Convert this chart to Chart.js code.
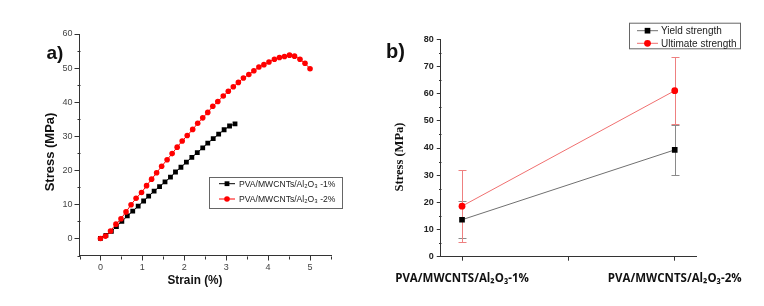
<!DOCTYPE html>
<html>
<head>
<meta charset="utf-8">
<title>Tensile properties</title>
<script src="https://cdn.jsdelivr.net/npm/chart.js@4.4.1/dist/chart.umd.min.js"></script>
<style>
  html, body { margin: 0; padding: 0; background: #fff; }
  .wrapper { position: relative; width: 764px; height: 306px; overflow: hidden; background: #fff; }
  #stressStrainChart { position: absolute; left: 0; top: 0; }
  #strengthChart { position: absolute; left: 380px; top: 0; }
</style>
</head>
<body>
<div class="wrapper">
  <canvas id="stressStrainChart" width="380" height="306"></canvas>
  <canvas id="strengthChart" width="384" height="306"></canvas>
</div>
<script>
// Panel a - stress / strain curves
const seriesNamesA = ["PVA/MWCNTs/Al₂O₃ -1%", "PVA/MWCNTs/Al₂O₃ -2%"];
const strain1 = [0, 0.13, 0.26, 0.38, 0.51, 0.64, 0.77, 0.9, 1.03, 1.15, 1.28, 1.41, 1.54, 1.67, 1.79, 1.92, 2.05, 2.18, 2.31, 2.44, 2.56, 2.69, 2.82, 2.95, 3.08, 3.21];
const stress1 = [0, 0.9, 2.1, 3.5, 5.0, 6.6, 8.0, 9.5, 11.0, 12.4, 13.9, 15.2, 16.6, 18.0, 19.5, 20.9, 22.4, 23.8, 25.2, 26.6, 28.0, 29.3, 30.6, 31.9, 33.0, 33.6];
const strain2 = [0, 0.12, 0.24, 0.37, 0.49, 0.61, 0.73, 0.85, 0.98, 1.10, 1.22, 1.34, 1.46, 1.59, 1.71, 1.83, 1.95, 2.07, 2.20, 2.32, 2.44, 2.56, 2.68, 2.80, 2.93, 3.05, 3.17, 3.29, 3.41, 3.54, 3.66, 3.78, 3.90, 4.02, 4.15, 4.27, 4.39, 4.51, 4.63, 4.76, 4.88, 5.00];
const stress2 = [0, 0.7, 2.2, 4.2, 5.8, 7.8, 9.9, 11.8, 13.5, 15.5, 17.4, 19.3, 21.2, 23.1, 24.9, 26.8, 28.6, 30.2, 32.0, 33.8, 35.4, 37.0, 38.8, 40.2, 41.8, 43.2, 44.5, 45.8, 47.1, 48.1, 49.2, 50.3, 51.0, 51.8, 52.6, 53.1, 53.4, 53.8, 53.5, 52.6, 51.4, 49.8];
const strainTicks = [0, 1, 2, 3, 4, 5];
const stressTicksA = [0, 10, 20, 30, 40, 50, 60];

// Panel b - yield / ultimate strength
const composites = ["PVA/MWCNTS/Al₂O₃-1%", "PVA/MWCNTS/Al₂O₃-2%"];
const seriesNamesB = ["Yield strength", "Ultimate strength"];
const yieldStrength = [13.6, 39.3];
const yieldError = [6.9, 9.3];
const ultimateStrength = [18.6, 61.1];
const ultimateError = [13.2, 12.4];
const compositeTicks = [1, 1.5, 2];
const stressTicksB = [0, 10, 20, 30, 40, 50, 60, 70, 80];

function toPoints(xs, ys) {
  return xs.map(function (x, i) {
    return { x: x, y: ys[i] };
  });
}

// short minor ticks between the labelled ones
const minorTicks = {
  id: "minorTicks",
  afterDraw: function (chart, args, opts) {
    const ctx = chart.ctx;
    ctx.save();
    ctx.strokeStyle = "#333";
    ctx.lineWidth = 1;
    ["x", "y"].forEach(function (id) {
      const step = opts[id];
      if (!step) return;
      const scale = chart.scales[id];
      const n = Math.round((scale.max - scale.min) / step);
      for (let i = 0; i <= n; i++) {
        const v = scale.min + i * step;
        if (scale.ticks.some(function (t) { return Math.abs(t.value - v) < 1e-6; })) continue;
        const p = Math.round(scale.getPixelForValue(v)) + 0.5;
        ctx.beginPath();
        if (id === "x") {
          const y0 = Math.round(chart.chartArea.bottom) + 0.5;
          ctx.moveTo(p, y0);
          ctx.lineTo(p, y0 + opts.length);
        } else {
          const x0 = Math.round(chart.chartArea.left) + 0.5;
          ctx.moveTo(x0, p);
          ctx.lineTo(x0 - opts.length, p);
        }
        ctx.stroke();
      }
    });
    ctx.restore();
  },
};

// free text: panel letters and axis titles
const panelText = {
  id: "panelText",
  afterDraw: function (chart, args, opts) {
    const ctx = chart.ctx;
    (opts.items || []).forEach(function (it) {
      ctx.save();
      ctx.translate(it.x, it.y);
      if (it.rotate) ctx.rotate(it.rotate);
      ctx.font = it.font;
      ctx.fillStyle = it.color || "#111";
      ctx.textAlign = "center";
      ctx.textBaseline = "middle";
      if (it.maxWidth) {
        ctx.fillText(it.text, 0, 0, it.maxWidth);
      } else {
        ctx.fillText(it.text, 0, 0);
      }
      ctx.restore();
    });
  },
};

// boxed legend placed like the original
const boxLegend = {
  id: "boxLegend",
  afterDraw: function (chart, args, opts) {
    if (!opts.width) return;
    const ctx = chart.ctx;
    ctx.save();
    ctx.fillStyle = "#fff";
    ctx.fillRect(opts.left, opts.top, opts.width, opts.height);
    ctx.strokeStyle = "#666";
    ctx.lineWidth = 1;
    ctx.strokeRect(opts.left + 0.5, opts.top + 0.5, opts.width, opts.height);
    ctx.font = opts.font;
    ctx.textBaseline = "middle";
    chart.data.datasets.forEach(function (ds, i) {
      const y = opts.top + opts.firstRow + i * opts.rowGap;
      const x0 = opts.left + opts.sampleLeft;
      const x1 = x0 + opts.sampleWidth;
      const xm = (x0 + x1) / 2;
      ctx.strokeStyle = ds.borderColor;
      ctx.beginPath();
      ctx.moveTo(x0, y);
      ctx.lineTo(x1, y);
      ctx.stroke();
      ctx.fillStyle = ds.pointBackgroundColor;
      if (ds.pointStyle === "rect") {
        const s = ds.pointRadius * Math.SQRT1_2;
        ctx.fillRect(xm - s, y - s, 2 * s, 2 * s);
      } else {
        ctx.beginPath();
        ctx.arc(xm, y, ds.pointRadius, 0, Math.PI * 2);
        ctx.fill();
      }
      ctx.fillStyle = "#222";
      ctx.fillText(ds.label, x1 + opts.textGap, y + 0.5);
    });
    ctx.restore();
  },
};

// vertical error bars with caps
const errorBars = {
  id: "errorBars",
  beforeDatasetsDraw: function (chart) {
    const ctx = chart.ctx;
    const xs = chart.scales.x;
    const ys = chart.scales.y;
    ctx.save();
    ctx.lineWidth = 1;
    chart.data.datasets.forEach(function (ds) {
      if (!ds.errorBars) return;
      ctx.strokeStyle = ds.errorColor;
      ds.data.forEach(function (pt, i) {
        const err = ds.errorBars[i];
        const x = Math.round(xs.getPixelForValue(pt.x)) + 0.5;
        const top = Math.round(ys.getPixelForValue(pt.y + err)) + 0.5;
        const bottom = Math.round(ys.getPixelForValue(pt.y - err)) + 0.5;
        ctx.beginPath();
        ctx.moveTo(x, top);
        ctx.lineTo(x, bottom);
        ctx.moveTo(x - 4, top);
        ctx.lineTo(x + 4, top);
        ctx.moveTo(x - 4, bottom);
        ctx.lineTo(x + 4, bottom);
        ctx.stroke();
      });
    });
    ctx.restore();
  },
};

// Stress Strain Chart
let stressStrainCanvas = document.getElementById("stressStrainChart");
if (stressStrainCanvas) {
  var ctxA = stressStrainCanvas.getContext("2d");
  var dataA = {
    datasets: [
      {
        label: seriesNamesA[0],
        data: toPoints(strain1, stress1),
        showLine: true,
        borderColor: "#000000",
        borderWidth: 1,
        pointStyle: "rect",
        pointRadius: 3.4,
        pointBackgroundColor: "#000000",
        pointBorderWidth: 0,
        order: 1,
      },
      {
        label: seriesNamesA[1],
        data: toPoints(strain2, stress2),
        showLine: true,
        borderColor: "#ff0000",
        borderWidth: 1,
        pointStyle: "circle",
        pointRadius: 2.8,
        pointBackgroundColor: "#ff0000",
        pointBorderWidth: 0,
        order: 0,
      },
    ],
  };
  var optionsA = {
    responsive: false,
    animation: false,
    layout: {
      padding: { left: 49.5, top: 34, right: 49, bottom: 25.5 },
    },
    plugins: {
      legend: { display: false },
      tooltip: { enabled: false },
      minorTicks: { x: 0.5, y: 5, length: 3 },
      boxLegend: {
        left: 209, top: 177, width: 133, height: 31,
        firstRow: 6.7, rowGap: 15.3,
        sampleLeft: 10, sampleWidth: 16, textGap: 4,
        font: "8.6px 'Liberation Sans', Arial, sans-serif",
      },
      panelText: {
        items: [
          { text: "a)", x: 55, y: 54, font: "bold 19px 'Liberation Sans', Arial, sans-serif" },
          { text: "Stress (MPa)", x: 50, y: 152, rotate: -Math.PI / 2, font: "bold 13px 'Liberation Sans', Arial, sans-serif", maxWidth: 80 },
          { text: "Strain (%)", x: 195, y: 280, font: "bold 13px 'Liberation Sans', Arial, sans-serif", maxWidth: 55 },
        ],
      },
    },
    scales: {
      x: {
        type: "linear",
        min: -0.5,
        max: 5.5,
        afterFit: function (scale) {
          scale.height = 25;
        },
        afterBuildTicks: function (scale) {
          scale.ticks = strainTicks.map(function (v) { return { value: v }; });
        },
        ticks: {
          color: "#444",
          font: { family: "'Liberation Sans', Arial", size: 9 },
          padding: 2,
          maxRotation: 0,
        },
        grid: { display: true, drawOnChartArea: false, drawTicks: true, tickLength: 5, tickColor: "#333" },
        border: { display: true, color: "#333", width: 1 },
      },
      y: {
        type: "linear",
        min: -5,
        max: 60,
        afterFit: function (scale) {
          scale.width = 30;
        },
        afterBuildTicks: function (scale) {
          scale.ticks = stressTicksA.map(function (v) { return { value: v }; });
        },
        ticks: {
          color: "#444",
          font: { family: "'Liberation Sans', Arial", size: 9 },
          padding: 2,
        },
        grid: { display: true, drawOnChartArea: false, drawTicks: true, tickLength: 5, tickColor: "#333" },
        border: { display: true, color: "#333", width: 1 },
      },
    },
  };
  var stressStrainChart = new Chart(ctxA, {
    type: "scatter",
    data: dataA,
    options: optionsA,
    plugins: [minorTicks, boxLegend, panelText],
  });
}

// Strength Chart
let strengthCanvas = document.getElementById("strengthChart");
if (strengthCanvas) {
  var ctxB = strengthCanvas.getContext("2d");
  var dataB = {
    datasets: [
      {
        label: seriesNamesB[0],
        data: toPoints([1, 2], yieldStrength),
        errorBars: yieldError,
        errorColor: "#8a8a8a",
        showLine: true,
        borderColor: "#707070",
        borderWidth: 1,
        pointStyle: "rect",
        pointRadius: 4,
        pointBackgroundColor: "#000000",
        pointBorderWidth: 0,
      },
      {
        label: seriesNamesB[1],
        data: toPoints([1, 2], ultimateStrength),
        errorBars: ultimateError,
        errorColor: "#ee8080",
        showLine: true,
        borderColor: "#f07070",
        borderWidth: 1,
        pointStyle: "circle",
        pointRadius: 3.4,
        pointBackgroundColor: "#ff0000",
        pointBorderWidth: 0,
      },
    ],
  };
  var optionsB = {
    responsive: false,
    animation: false,
    layout: {
      padding: { left: 20, top: 39.3, right: 68, bottom: 9.3 },
    },
    plugins: {
      legend: { display: false },
      tooltip: { enabled: false },
      minorTicks: { y: 5, length: 2.5 },
      boxLegend: {
        left: 249, top: 22.7, width: 111, height: 25.6,
        firstRow: 8, rowGap: 12.6,
        sampleLeft: 8, sampleWidth: 21, textGap: 3,
        font: "10px 'Liberation Sans', Arial, sans-serif",
      },
      panelText: {
        items: [
          { text: "b)", x: 15.5, y: 52, font: "bold 20px 'Liberation Sans', Arial, sans-serif" },
          { text: "Stress (MPa)", x: 20, y: 157, rotate: -Math.PI / 2, font: "bold 12.5px 'Liberation Serif', 'Times New Roman', serif" },
        ],
      },
    },
    scales: {
      x: {
        type: "linear",
        min: 0.9,
        max: 2.1,
        afterFit: function (scale) {
          scale.height = 40;
        },
        afterBuildTicks: function (scale) {
          scale.ticks = compositeTicks.map(function (v) { return { value: v }; });
        },
        ticks: {
          color: "#111",
          font: { family: "'Open Sans', sans-serif", size: 11.5, weight: "bold" },
          padding: 11,
          maxRotation: 0,
          autoSkip: false,
          callback: function (value) {
            return Number.isInteger(value) ? composites[value - 1] : "";
          },
        },
        grid: { display: true, drawOnChartArea: false, drawTicks: true, tickLength: 4, tickColor: "#333" },
        border: { display: true, color: "#333", width: 1 },
      },
      y: {
        type: "linear",
        min: 0,
        max: 80,
        afterFit: function (scale) {
          scale.width = 30;
        },
        afterBuildTicks: function (scale) {
          scale.ticks = stressTicksB.map(function (v) { return { value: v }; });
        },
        ticks: {
          color: "#222",
          font: { family: "'Liberation Sans', Arial", size: 9, weight: "bold" },
          padding: 3,
        },
        grid: { display: true, drawOnChartArea: false, drawTicks: true, tickLength: 4, tickColor: "#333" },
        border: { display: true, color: "#333", width: 1 },
      },
    },
  };
  var strengthChart = new Chart(ctxB, {
    type: "scatter",
    data: dataB,
    options: optionsB,
    plugins: [errorBars, minorTicks, boxLegend, panelText],
  });
}
</script>
</body>
</html>
